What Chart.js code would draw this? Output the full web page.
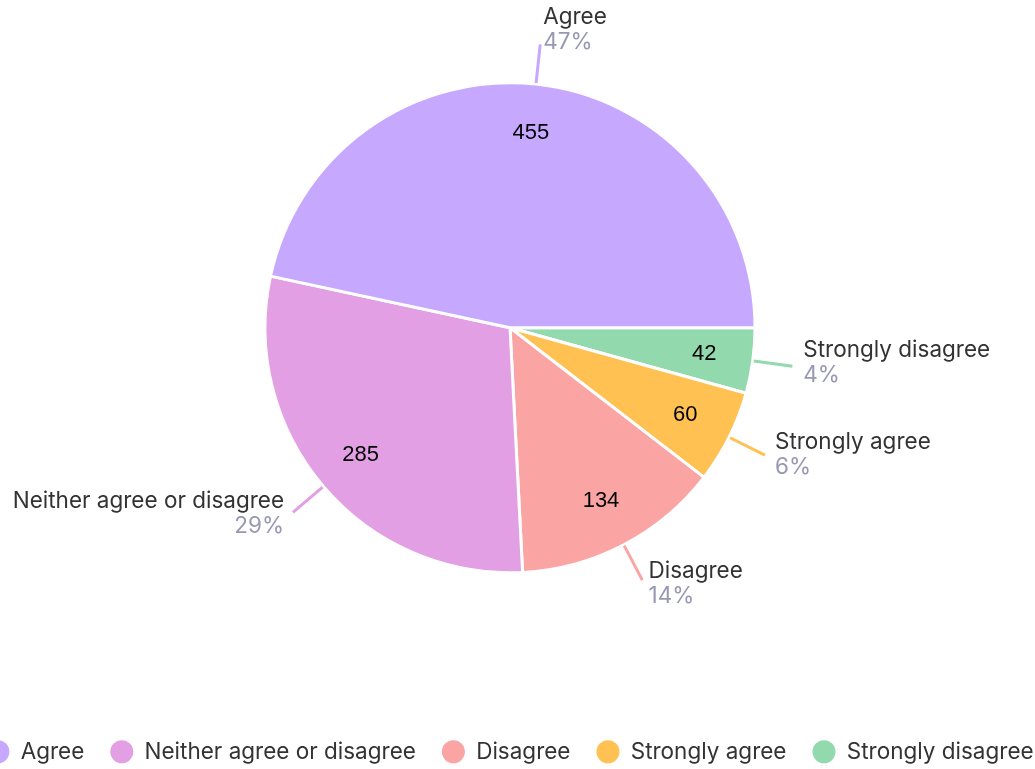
<!DOCTYPE html>
<html>
<head>
<meta charset="utf-8">
<script src="https://cdn.jsdelivr.net/npm/chart.js@4.4.1/dist/chart.umd.min.js"></script>
<style>
html, body { margin: 0; padding: 0; background: #fff; overflow: hidden; width: 1035px; height: 769px; }
#wrap { position: absolute; left: -60px; top: -59px; width: 1140px; height: 832px; }
</style>
</head>
<body>
<div id="wrap"><canvas id="myChart"></canvas></div>
<script>
// dati (ordine della legenda)
var categorie = ['Agree', 'Neither agree or disagree', 'Disagree', 'Strongly agree', 'Strongly disagree'];
var valori = [455, 285, 134, 60, 42];
var colori = ['#C6A8FF', '#E29FE3', '#FBA4A4', '#FFC152', '#93D9AE'];

var totale = valori.reduce(function (a, b) { return a + b; }, 0);

// la torta originale gira in senso antiorario, Chart.js in senso orario: invertiamo
var etichette = categorie.slice().reverse();
var numeri = valori.slice().reverse();
var coloriInv = colori.slice().reverse();

var FONT = 'Inter, "Noto Sans", sans-serif';

var etichettePlugin = {
  id: 'etichette',
  afterDatasetsDraw: function (chart) {
    var ctx = chart.ctx;
    var meta = chart.getDatasetMeta(0);
    ctx.save();
    meta.data.forEach(function (arc, i) {
      var p = arc.getProps(['x', 'y', 'startAngle', 'endAngle', 'outerRadius'], true);
      var mid = (p.startAngle + p.endAngle) / 2;
      var c = Math.cos(mid), s = Math.sin(mid);
      var R = p.outerRadius;

      // valore dentro la fetta
      ctx.fillStyle = '#000';
      ctx.font = '22px "Liberation Sans", Arial, sans-serif';
      ctx.textAlign = 'center';
      ctx.textBaseline = 'middle';
      ctx.fillText(String(numeri[i]), p.x + c * R * 0.8, p.y + s * R * 0.8);

      // linea guida
      var x1 = p.x + c * (R + 1), y1 = p.y + s * (R + 1);
      var x2 = p.x + c * (R + 40), y2 = p.y + s * (R + 40);
      ctx.strokeStyle = coloriInv[i];
      ctx.lineWidth = 3;
      ctx.beginPath();
      ctx.moveTo(x1, y1);
      ctx.lineTo(x2, y2);
      ctx.stroke();

      // testo esterno
      var destra = c >= 0;
      var tx = destra ? x2 + 2 + c * 9 : x2 - 2 + c * 9;
      var ty = y2 + s * 10 - 5;
      ctx.textAlign = destra ? 'left' : 'right';
      ctx.font = '22.5px ' + FONT;
      ctx.fillStyle = '#333333';
      ctx.fillText(etichette[i], tx, ty - 12.5);
      ctx.fillStyle = '#9898B4';
      ctx.fillText(Math.round(numeri[i] / totale * 100) + '%', tx, ty + 12.5);
    });
    ctx.restore();
  }
};

var ctx = document.getElementById('myChart');

new Chart(ctx, {
  type: 'pie',
  data: {
    labels: etichette,
    datasets: [{
      data: numeri,
      backgroundColor: coloriInv,
      borderColor: '#ffffff',
      borderWidth: 3,
      radius: 245
    }]
  },
  options: {
    responsive: true,
    maintainAspectRatio: false,
    animation: false,
    rotation: 90,
    layout: { padding: 0 },
    plugins: {
      tooltip: { enabled: false },
      legend: {
        position: 'bottom',
        reverse: true,
        labels: {
          usePointStyle: true,
          pointStyle: 'circle',
          boxHeight: 16.3,
          boxWidth: 23,
          pointStyleWidth: 23,
          padding: 26,
          color: '#333333',
          font: { family: FONT, size: 22.5 },
          generateLabels: function (chart) {
            var items = Chart.overrides.pie.plugins.legend.labels.generateLabels(chart);
            items.forEach(function (it) { it.lineWidth = 0; });
            return items;
          }
        }
      }
    }
  },
  plugins: [etichettePlugin]
});
</script>
</body>
</html>
